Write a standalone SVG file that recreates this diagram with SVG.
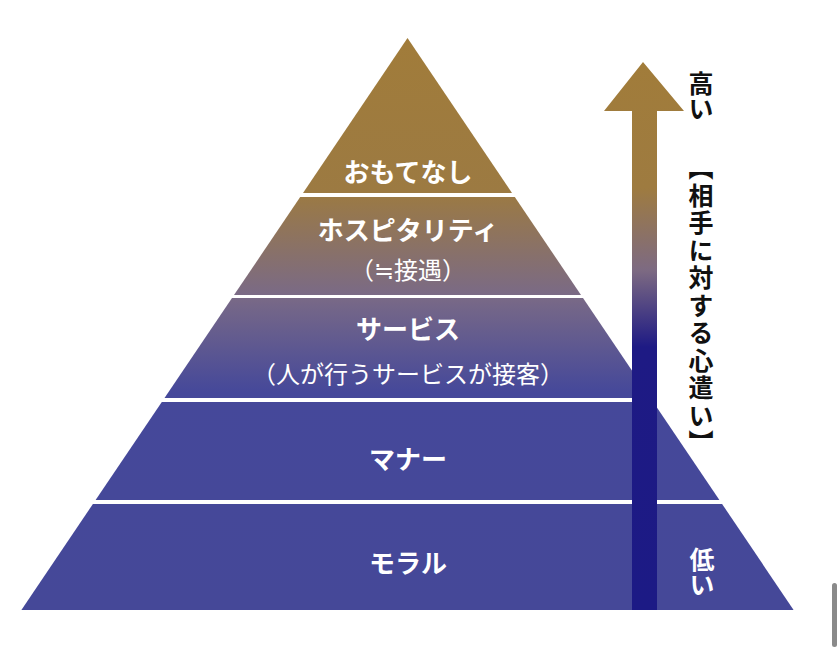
<svg xmlns="http://www.w3.org/2000/svg" width="840" height="647" viewBox="0 0 840 647">
<style>
.lbl{font-family:"Noto Sans CJK JP","Noto Sans",sans-serif;fill:#fff;text-anchor:middle;dominant-baseline:central}
.main{font-size:26px;font-weight:700}
.sub{font-size:24px;font-weight:400}
.vt{font-family:"Noto Sans CJK JP","Noto Sans",sans-serif;writing-mode:vertical-rl;font-weight:700;font-size:25px}
</style>
<defs>
<linearGradient id="pyr" gradientUnits="userSpaceOnUse" x1="0" y1="38" x2="0" y2="610">
<stop offset="0" stop-color="#A17C3A"/>
<stop offset="0.27" stop-color="#9C7A42"/>
<stop offset="0.45" stop-color="#7A6A86"/>
<stop offset="0.62" stop-color="#45489A"/>
<stop offset="1" stop-color="#454898"/>
</linearGradient>
<linearGradient id="arr" gradientUnits="userSpaceOnUse" x1="0" y1="62" x2="0" y2="610">
<stop offset="0" stop-color="#A17C3A"/>
<stop offset="0.23" stop-color="#9E7B40"/>
<stop offset="0.38" stop-color="#7D6A82"/>
<stop offset="0.52" stop-color="#1E1A84"/>
<stop offset="1" stop-color="#1C1A85"/>
</linearGradient>
</defs>
<rect width="840" height="647" fill="#fff"/>
<g id="omotenashi">
<polygon points="407.5,38 512,193 303,193" fill="url(#pyr)"/>
<text class="lbl main" x="408" y="170">おもてなし</text>
</g>
<g id="hospitality">
<polygon points="300.2,197 514.8,197 581,295 234,295" fill="url(#pyr)"/>
<text class="lbl main" x="408" y="228">ホスピタリティ</text>
<text class="lbl sub" x="408" y="268">（≒接遇）</text>
</g>
<g id="service">
<polygon points="232,298 583,298 650.5,398 164.5,398" fill="url(#pyr)"/>
<text class="lbl main" x="408" y="327">サービス</text>
<text class="lbl sub" x="408" y="372">（人が行うサービスが接客）</text>
</g>
<g id="manner">
<polygon points="161.8,402 653.2,402 719.4,500 95.6,500" fill="url(#pyr)"/>
<text class="lbl main" x="408" y="457">マナー</text>
</g>
<g id="moral">
<polygon points="92.9,504 722.1,504 793.6,610 21.4,610" fill="url(#pyr)"/>
<text class="lbl main" x="408" y="561">モラル</text>
</g>
<g id="connectors">
<polygon id="arrow" points="643,62 684,111 657,111 657,610 632,610 632,111 604,111" fill="url(#arr)"/>
</g>
<g id="axis-labels">
<text class="vt" x="701" y="71" fill="#111">高い</text>
<text class="vt" x="701" y="155" fill="#111" letter-spacing="2.5">【相手に対する心遣い】</text>
<text class="vt" x="702" y="547" fill="#fff">低い</text>
</g>
<rect x="832" y="583" width="5" height="64" rx="2.5" fill="#8a8a8a"/>
</svg>
